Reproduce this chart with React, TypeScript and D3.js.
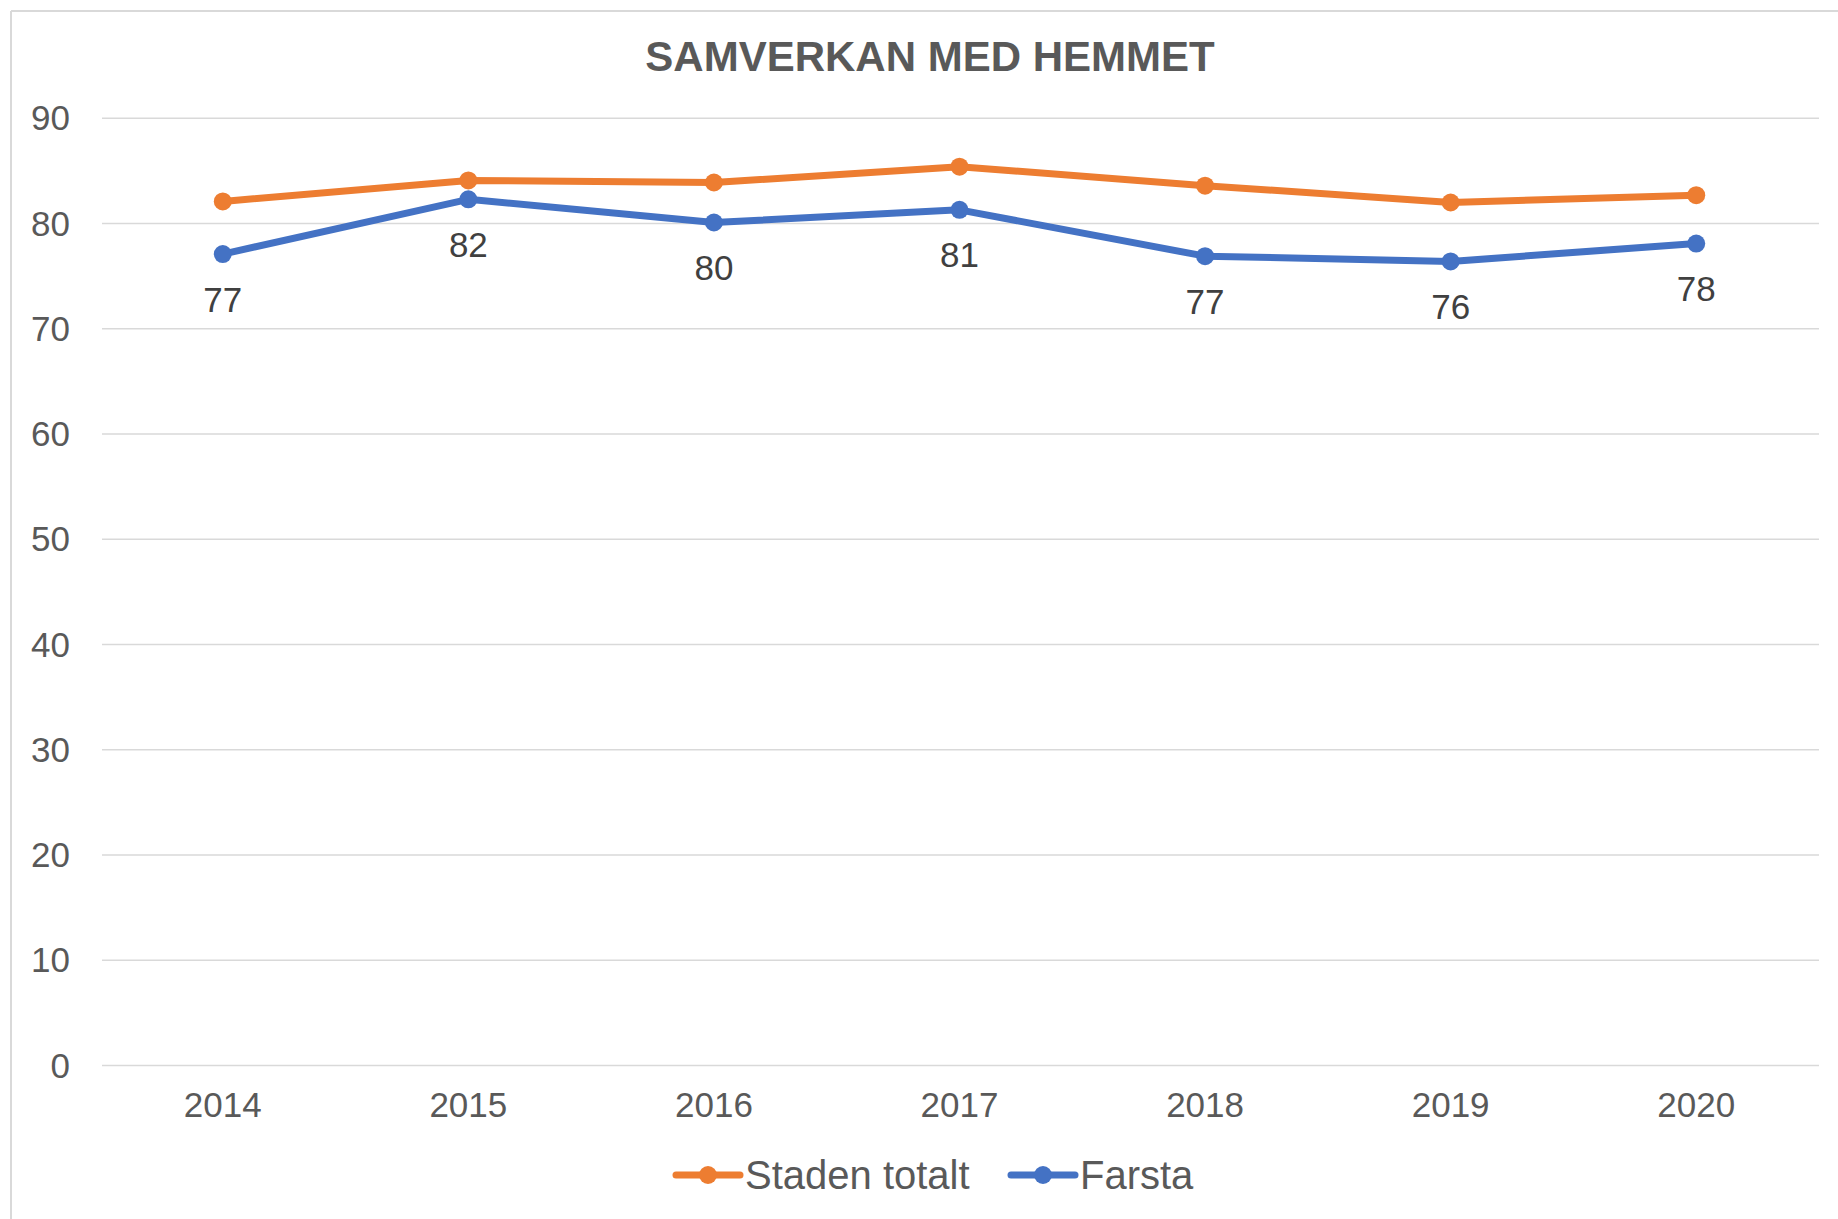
import React from "react";
import * as d3 from "d3";

const years = ["2014", "2015", "2016", "2017", "2018", "2019", "2020"];
const stadenTotalt = [82.1, 84.1, 83.9, 85.4, 83.6, 82.0, 82.7];
const farsta = [77.1, 82.3, 80.1, 81.3, 76.9, 76.4, 78.1];
const farstaLabels = ["77", "82", "80", "81", "77", "76", "78"];
const yTicks = [0, 10, 20, 30, 40, 50, 60, 70, 80, 90];
const title = "SAMVERKAN MED HEMMET";
const seriesNames = ["Staden totalt", "Farsta"];

const W = 1838;
const H = 1219;
const ORANGE = "#ED7D31";
const BLUE = "#4472C4";
const FONT = "'Liberation Sans', Arial, sans-serif";

export default function App() {
  const x = d3.scaleBand<string>().domain(years).range([100, 1819]);
  const y = d3.scaleLinear().domain([0, 90]).range([1065.5, 118.3]);
  const cx = (d: string) => (x(d) as number) + x.bandwidth() / 2;
  const line = d3
    .line<number>()
    .x((_, i) => cx(years[i]))
    .y((v) => y(v));

  const series = [
    { name: seriesNames[0], values: stadenTotalt, color: ORANGE },
    { name: seriesNames[1], values: farsta, color: BLUE },
  ];

  const legendItems = [
    { name: seriesNames[0], color: ORANGE, x0: 676, x1: 740, tx: 745 },
    { name: seriesNames[1], color: BLUE, x0: 1011, x1: 1075, tx: 1080 },
  ];
  const legendY = 1175;

  return (
    <svg
      width={W}
      height={H}
      style={{ position: "absolute", left: 0, top: 0, background: "#fff" }}
      fontFamily={FONT}
    >
      <rect x={0} y={0} width={W} height={H} fill="#fff" />
      <line x1={11} y1={11} x2={W} y2={11} stroke="#D9D9D9" strokeWidth={2} />
      <line x1={11} y1={11} x2={11} y2={H} stroke="#D9D9D9" strokeWidth={2} />

      <text
        x={930}
        y={71}
        textAnchor="middle"
        fontSize={42}
        fontWeight="bold"
        fill="#595959"
      >
        {title}
      </text>

      {yTicks.map((t) => (
        <g key={t}>
          <line
            x1={102}
            x2={1819}
            y1={y(t)}
            y2={y(t)}
            stroke="#D9D9D9"
            strokeWidth={1.5}
          />
          <text
            x={70}
            y={y(t) + 12}
            textAnchor="end"
            fontSize={35}
            fill="#595959"
          >
            {t}
          </text>
        </g>
      ))}

      {years.map((yr) => (
        <text
          key={yr}
          x={cx(yr)}
          y={1116.5}
          textAnchor="middle"
          fontSize={35}
          fill="#595959"
        >
          {yr}
        </text>
      ))}

      {series.map((s) => (
        <g key={s.name}>
          <path
            d={line(s.values) as string}
            fill="none"
            stroke={s.color}
            strokeWidth={7}
            strokeLinejoin="round"
            strokeLinecap="round"
          />
          {s.values.map((v, i) => (
            <circle key={i} cx={cx(years[i])} cy={y(v)} r={9} fill={s.color} />
          ))}
        </g>
      ))}

      {farsta.map((v, i) => (
        <text
          key={i}
          x={cx(years[i])}
          y={y(v) + 45 + 12.5}
          textAnchor="middle"
          fontSize={35}
          fill="#404040"
        >
          {farstaLabels[i]}
        </text>
      ))}

      {legendItems.map((l) => (
        <g key={l.name}>
          <line
            x1={l.x0}
            x2={l.x1}
            y1={legendY}
            y2={legendY}
            stroke={l.color}
            strokeWidth={7}
            strokeLinecap="round"
          />
          <circle cx={(l.x0 + l.x1) / 2} cy={legendY} r={9} fill={l.color} />
          <text x={l.tx} y={legendY + 14} fontSize={40} fill="#595959">
            {l.name}
          </text>
        </g>
      ))}
    </svg>
  );
}
